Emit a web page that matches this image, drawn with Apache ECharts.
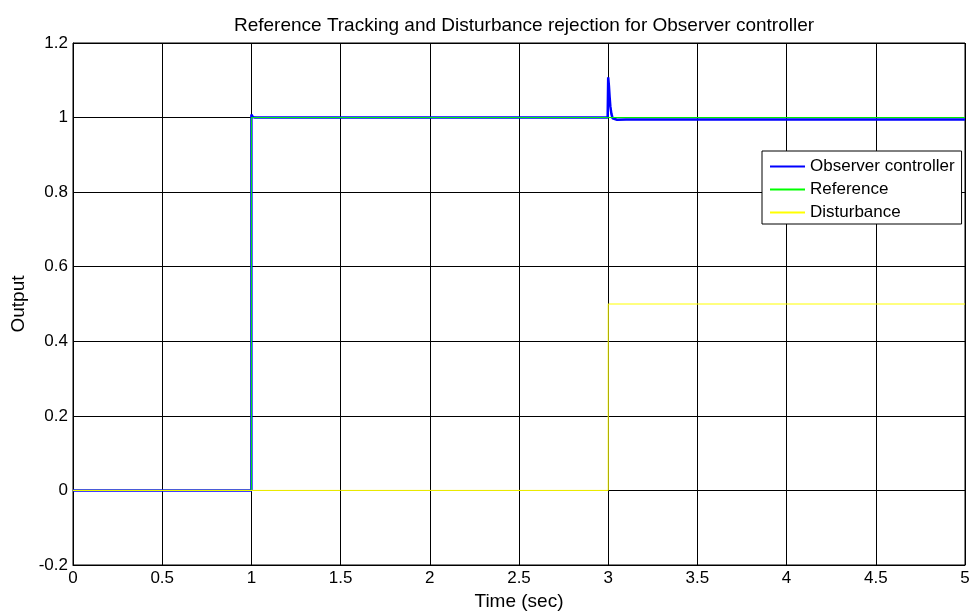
<!DOCTYPE html>
<html>
<head>
<meta charset="utf-8">
<title>Reference Tracking and Disturbance rejection for Observer controller</title>
<script src="https://cdn.jsdelivr.net/npm/echarts@6/dist/echarts.min.js"></script>
<style>
  html, body { margin: 0; padding: 0; background: #fff; }
  #chart { width: 973px; height: 616px; }
</style>
</head>
<body>
<div id="chart"></div>
<script>
// Closed-loop output of the observer-based controller (step at t=1, load disturbance at t=3)
const observerT = [0, 1.0, 1.0, 1.003, 1.008, 1.02, 1.05, 2.0, 2.997, 2.998, 3.0, 3.004, 3.008, 3.012, 3.018, 3.025, 3.035, 3.05, 3.1, 3.5, 4.0, 4.5, 5.0];
const observerY = [0, 0, 1.008, 1.005, 1.002, 1.0, 1.0, 1.0, 1.0, 1.0, 1.108, 1.085, 1.055, 1.03, 1.01, 0.998, 0.993, 0.994, 0.995, 0.995, 0.995, 0.995, 0.995];

// Unit step reference applied at t = 1 s
const referenceT = [0, 1, 1, 5];
const referenceY = [0, 0, 1, 1];

// Step disturbance of 0.5 applied at t = 3 s
const disturbanceT = [0, 3, 3, 5];
const disturbanceY = [0, 0, 0.5, 0.5];

// Axis ranges and tick spacing
const xMin = 0, xMax = 5, xStep = 0.5;
const yMin = -0.2, yMax = 1.2, yStep = 0.2;

const zip = (t, y) => t.map((v, i) => [v, y[i]]);

const FONT = '"Liberation Sans", Arial, Helvetica, sans-serif';

const chart = echarts.init(document.getElementById('chart'), null, { renderer: 'canvas' });

chart.setOption({
  animation: false,
  backgroundColor: '#ffffff',
  textStyle: { fontFamily: FONT, color: '#000' },
  title: {
    text: 'Reference Tracking and Disturbance rejection for Observer controller',
    left: 519,
    textAlign: 'center',
    top: 11,
    textStyle: { fontFamily: FONT, fontSize: 19, fontWeight: 'normal', color: '#000' }
  },
  grid: {
    left: 73, right: 8, top: 43, bottom: 51,
    show: true, borderColor: '#000', borderWidth: 1, backgroundColor: '#fff'
  },
  legend: {
    left: 762,
    top: 151,
    orient: 'vertical',
    backgroundColor: '#fff',
    borderColor: '#000',
    borderWidth: 1,
    padding: [7, 7, 3, 7],
    itemGap: 6,
    itemWidth: 35,
    itemHeight: 14,
    // line-only keys: hide the marker drawn in the middle of each key
    itemStyle: { opacity: 0 },
    textStyle: { fontFamily: FONT, fontSize: 17, lineHeight: 17, color: '#000', padding: [0, 0, 0, 0] },
    data: ['Observer controller', 'Reference', 'Disturbance']
  },
  xAxis: {
    type: 'value',
    min: xMin, max: xMax, interval: xStep,
    name: 'Time (sec)',
    nameLocation: 'middle',
    nameGap: 25,
    nameTextStyle: { fontFamily: FONT, fontSize: 19, color: '#000' },
    axisLine: { show: true, onZero: false, lineStyle: { color: '#000', width: 1 } },
    axisTick: { show: false },
    axisLabel: { fontFamily: FONT, fontSize: 17, color: '#000', margin: 5 },
    splitLine: { show: true, lineStyle: { color: '#000', width: 1 } }
  },
  yAxis: {
    type: 'value',
    min: yMin, max: yMax, interval: yStep,
    name: 'Output',
    nameLocation: 'middle',
    nameGap: 44,
    nameTextStyle: { fontFamily: FONT, fontSize: 19, color: '#000' },
    axisLine: { show: true, onZero: false, lineStyle: { color: '#000', width: 1 } },
    axisTick: { show: false },
    axisLabel: {
      fontFamily: FONT, fontSize: 17, color: '#000', margin: 5,
      formatter: v => String(Math.round(v * 10) / 10)
    },
    splitLine: { show: true, lineStyle: { color: '#000', width: 1 } }
  },
  series: [
    {
      name: 'Observer controller',
      type: 'line',
      data: zip(observerT, observerY),
      symbol: 'none',
      lineStyle: { color: '#0000ff', width: 2.5 },
      itemStyle: { color: '#0000ff' },
      z: 2
    },
    {
      name: 'Reference',
      type: 'line',
      data: zip(referenceT, referenceY),
      symbol: 'none',
      lineStyle: { color: '#00ff00', width: 1 },
      itemStyle: { color: '#00ff00' },
      z: 3
    },
    {
      name: 'Disturbance',
      type: 'line',
      data: zip(disturbanceT, disturbanceY),
      symbol: 'none',
      lineStyle: { color: '#ffff00', width: 1 },
      itemStyle: { color: '#ffff00' },
      z: 4
    }
  ]
});
</script>
</body>
</html>
